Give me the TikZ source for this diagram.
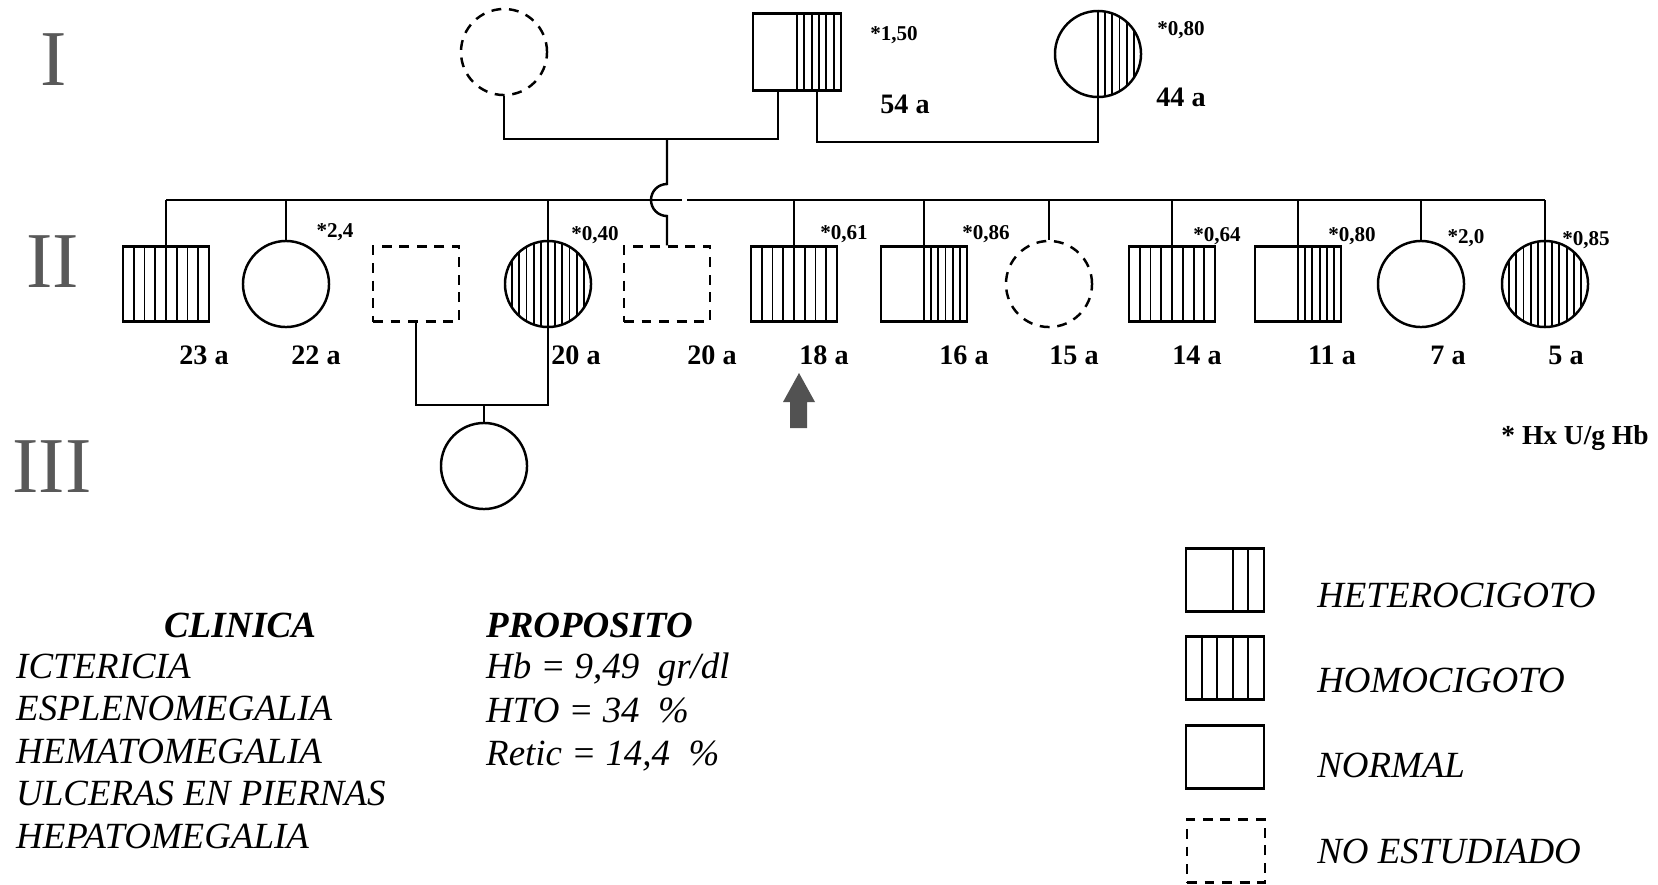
\documentclass[tikz,border=0pt]{standalone}
\usepackage{fontspec}
\setmainfont{Liberation Serif}
\usetikzlibrary{calc}

\begin{document}
\begin{tikzpicture}[
    x=0.01cm, y=-0.01cm,
    line width=0.7pt,
    stripe/.style={line width=0.55pt},
    hatch/.style 2 args={path picture={
      \foreach \k in {1,...,#2}
        \draw[stripe]
          ($(path picture bounding box.south west)!{#1+(1-#1)*(\k-1)/#2}!(path picture bounding box.south east)$)
          -- ($(path picture bounding box.north west)!{#1+(1-#1)*(\k-1)/#2}!(path picture bounding box.north east)$);}},
    male/.style={draw, rectangle, minimum width=0.86cm, minimum height=0.75cm, inner sep=0pt},
    female/.style={draw, circle, minimum size=0.86cm, inner sep=0pt},
    homo/.style={hatch={0}{8}},
    homof/.style={hatch={0}{12}},
    hetero/.style={hatch={0.5}{6}},
    unknown/.style={dash pattern=on 2.8pt off 2.2pt},
    legbox/.style={male, minimum width=0.78cm, minimum height=0.63cm},
    gen/.style={text=black!65, font=\fontsize{22.5}{27}\selectfont},
    age/.style={font=\fontsize{8}{9.6}\selectfont\bfseries},
    hx/.style={font=\fontsize{6}{7.2}\selectfont\bfseries},
    note/.style={font=\fontsize{10.5}{12.6}\selectfont\itshape, anchor=base west, inner sep=0pt},
    head/.style={note, font=\fontsize{10.5}{12.6}\selectfont\bfseries\itshape},
    legtext/.style={font=\fontsize{10.5}{12.6}\selectfont\itshape, anchor=base west, inner sep=0pt}
  ]
  \useasboundingbox (0,0) rectangle (1658,884);

  \node[gen] (gI) at (54,60) {I};
  \node[gen] (gII) at (53,262) {II};
  \node[gen] (gIII) at (52,467) {III};

  % generation I
  \node[female, unknown] (exwife) at (504,52) {};
  \node[male, hetero, minimum width=0.88cm, minimum height=0.77cm] (father) at (797,52) {};
  \node[female, hetero] (mother) at (1098,54) {};
  \node[hx] (hxfather) at (894,35) {*1,50};
  \node[age] (agefather) at (905,104) {54 a};
  \node[hx] (hxmother) at (1181,30) {*0,80};
  \node[age] (agemother) at (1181,97) {44 a};

  \coordinate (mate1) at (667,139);
  \draw (exwife.south) |- (mate1) -| ([xshift=-0.19cm]father.south);
  \draw ([xshift=0.2cm]father.south) -- ++(0,50) -| (mother.south);

  % generation II
  \node[male, homo] (a23) at (166,284) {};
  \node[female] (a22) at (286,284) {};
  \node[male, unknown] (spouse) at (416,284) {};
  \node[female, homof] (a20f) at (548,284) {};
  \node[male, unknown] (a20m) at (667,284) {};
  \node[male, homo] (a18) at (794,284) {};
  \node[male, hetero] (a16) at (924,284) {};
  \node[female, unknown] (a15) at (1049,284) {};
  \node[male, homo] (a14) at (1172,284) {};
  \node[male, hetero] (a11) at (1298,284) {};
  \node[female] (a7) at (1421,284) {};
  \node[female, homof] (a5) at (1545,284) {};

  \coordinate (sib) at (0,200);
  \coordinate (hop) at (667,200);
  \draw (a23.north |- sib) -- ([xshift=0.15cm]hop);
  \draw ([xshift=0.2cm]hop) -- (a5.north |- sib);
  \foreach \c in {a23,a22,a20f,a18,a16,a15,a14,a11,a7,a5}
    \draw (\c.north |- sib) -- (\c.north);
  \draw (mate1) -- ++(0,45) arc[start angle=90, end angle=270, radius=0.16cm] -- (a20m.north);

  \node[hx] (hx22) at (335,232) {*2,4};
  \node[hx] (hx20) at (595,235) {*0,40};
  \node[hx] (hx18) at (844,234) {*0,61};
  \node[hx] (hx16) at (986,234) {*0,86};
  \node[hx] (hx14) at (1217,236) {*0,64};
  \node[hx] (hx11) at (1352,236) {*0,80};
  \node[hx] (hx7) at (1466,238) {*2,0};
  \node[hx] (hx5) at (1586,240) {*0,85};

  \foreach \x/\t [count=\i] in {204/23, 316/22, 576/20, 712/20, 824/18, 964/16,
      1074/15, 1197/14, 1332/11, 1448/7, 1566/5}
    \node[age] (age\i) at (\x,355) {\t\ a};

  % proband
  \fill[black!68] (799,373) -- (815,402) -- (807,402) -- (807,428)
    -- (790,428) -- (790,402) -- (783,402) -- cycle;

  \node[font=\fontsize{7.8}{9}\selectfont\bfseries] (hxnote) at (1575,438) {* Hx U/g Hb};

  % generation III
  \coordinate (mate3) at (484,405);
  \node[female] (child) at (484,466) {};
  \draw (spouse.south) |- (mate3) -| (a20f.south);
  \draw (mate3) -- (child.north);

  % clinical notes
  \node[head, anchor=base] (clinica) at (240,637) {CLINICA};
  \foreach \t [count=\i] in {ICTERICIA, ESPLENOMEGALIA, HEMATOMEGALIA,
      ULCERAS EN PIERNAS, HEPATOMEGALIA}
    \node[note] (clin\i) at (15,635.5+42.5*\i) {\t};
  \node[head] (proposito) at (485,637) {PROPOSITO};
  \node[note] (hb) at (485,678) {Hb = 9,49~~gr/dl};
  \node[note] (hto) at (485,722) {HTO = 34~~\%};
  \node[note] (retic) at (485,765) {Retic = 14,4~~\%};

  % legend
  \node[legbox, hatch={0.6}{2}] (lhet) at (1225,580) {};
  \node[legbox, hatch={0}{5}] (lhom) at (1225,668) {};
  \node[legbox] (lnor) at (1225,757) {};
  \node[legbox, unknown] (lnoe) at (1226,851) {};
  \node[legtext] (thet) at (1316,607) {HETEROCIGOTO};
  \node[legtext] (thom) at (1316,692) {HOMOCIGOTO};
  \node[legtext] (tnor) at (1316,777) {NORMAL};
  \node[legtext] (tnoe) at (1316,863) {NO ESTUDIADO};
\end{tikzpicture}
\end{document}
